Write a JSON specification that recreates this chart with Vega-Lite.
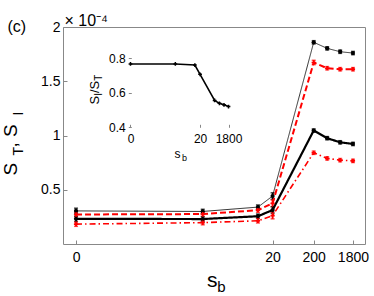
{
  "$schema": "https://vega.github.io/schema/vega-lite/v6.json",
  "width": 302,
  "height": 217,
  "autosize": {"type": "none"},
  "padding": {"left": 63, "top": 27, "right": 9, "bottom": 52},
  "background": "white",
  "config": {
    "font": "Liberation Sans",
    "view": {"stroke": "#888", "strokeWidth": 1},
    "axis": {"grid": false, "domain": false, "labelColor": "black", "titleColor": "black", "titleFontWeight": "normal", "tickColor": "#888", "labelFont": "Liberation Sans", "titleFont": "Liberation Sans", "labelOverlap": false, "labelFlush": false}
  },
  "datasets": {
    "main": [
      {"s": 0, "series": "ST1", "y": 0.305, "e": 0.025},
      {"s": 0.4, "series": "ST1", "y": 0.300, "e": 0.02},
      {"s": 8.8, "series": "ST1", "y": 0.340, "e": 0.02},
      {"s": 20, "series": "ST1", "y": 0.442, "e": 0.03},
      {"s": 200, "series": "ST1", "y": 1.859, "e": 0.015},
      {"s": 425, "series": "ST1", "y": 1.803, "e": 0.015},
      {"s": 880, "series": "ST1", "y": 1.772, "e": 0.015},
      {"s": 1800, "series": "ST1", "y": 1.760, "e": 0.015},
      {"s": 0, "series": "SI1", "y": 0.232, "e": 0.025},
      {"s": 0.4, "series": "SI1", "y": 0.230, "e": 0.02},
      {"s": 8.8, "series": "SI1", "y": 0.256, "e": 0.02},
      {"s": 20, "series": "SI1", "y": 0.313, "e": 0.03},
      {"s": 200, "series": "SI1", "y": 1.046, "e": 0.015},
      {"s": 425, "series": "SI1", "y": 0.975, "e": 0.015},
      {"s": 880, "series": "SI1", "y": 0.937, "e": 0.015},
      {"s": 1800, "series": "SI1", "y": 0.922, "e": 0.015},
      {"s": 0, "series": "ST2", "y": 0.272, "e": 0.02},
      {"s": 0.4, "series": "ST2", "y": 0.276, "e": 0.02},
      {"s": 8.8, "series": "ST2", "y": 0.312, "e": 0.02},
      {"s": 20, "series": "ST2", "y": 0.375, "e": 0.03},
      {"s": 200, "series": "ST2", "y": 1.673, "e": 0.02},
      {"s": 425, "series": "ST2", "y": 1.620, "e": 0.015},
      {"s": 880, "series": "ST2", "y": 1.611, "e": 0.015},
      {"s": 1800, "series": "ST2", "y": 1.611, "e": 0.015},
      {"s": 0, "series": "SI2", "y": 0.183, "e": 0.02},
      {"s": 0.4, "series": "SI2", "y": 0.197, "e": 0.02},
      {"s": 8.8, "series": "SI2", "y": 0.214, "e": 0.02},
      {"s": 20, "series": "SI2", "y": 0.262, "e": 0.03},
      {"s": 200, "series": "SI2", "y": 0.841, "e": 0.015},
      {"s": 425, "series": "SI2", "y": 0.789, "e": 0.015},
      {"s": 880, "series": "SI2", "y": 0.773, "e": 0.015},
      {"s": 1800, "series": "SI2", "y": 0.766, "e": 0.015}
    ],
    "ratio": [
      {"s": 0, "r": 0.767},
      {"s": 0.4, "r": 0.767},
      {"s": 8.8, "r": 0.761},
      {"s": 20, "r": 0.707},
      {"s": 200, "r": 0.556},
      {"s": 425, "r": 0.539},
      {"s": 880, "r": 0.530},
      {"s": 1800, "r": 0.520}
    ],
    "dummy": [{"d": 0}]
  },
  "layer": [
    {
      "data": {"name": "main"},
      "encoding": {
        "x": {"field": "s", "type": "quantitative",
          "scale": {"type": "symlog", "constant": 0.000332, "domain": [-0.000357, 3534], "nice": false, "zero": false},
          "axis": {"orient": "bottom", "values": [0, 20, 200, 1800], "format": "d", "labelFontSize": 14, "tickSize": -4, "labelPadding": 10,
            "title": "s", "titleFontSize": 21, "titleX": 148.7, "titleY": 42.7, "titleAlign": "center", "titleBaseline": "alphabetic", "titleAngle": 0}},
        "y": {"field": "y", "type": "quantitative",
          "scale": {"domain": [0, 2], "nice": false, "zero": false},
          "axis": {"orient": "left", "values": [0.5, 1, 1.5, 2], "format": "~g", "labelFontSize": 14, "tickSize": -4, "labelPadding": 7,
            "title": "S", "titleFontSize": 19, "titleX": -47, "titleY": 148, "titleAngle": 270, "titleAlign": "left", "titleBaseline": "alphabetic"}},
        "color": {"field": "series", "type": "nominal", "scale": {"domain": ["ST1", "SI1", "ST2", "SI2"], "range": ["black", "black", "#ff0000", "#ff0000"]}, "legend": null}
      },
      "layer": [
        {"mark": {"type": "errorbar", "ticks": {"size": 4}, "thickness": 1.5}, "encoding": {"yError": {"field": "e"}}},
        {"mark": {"type": "line"},
          "encoding": {
            "strokeDash": {"field": "series", "type": "nominal", "scale": {"domain": ["ST1", "SI1", "ST2", "SI2"], "range": [[1, 0], [1, 0], [6, 3], [6, 3, 1.5, 3]]}, "legend": null},
            "strokeWidth": {"field": "series", "type": "nominal", "scale": {"type": "ordinal", "domain": ["ST1", "SI1", "ST2", "SI2"], "range": [0.8, 2.2, 2, 1.6]}, "legend": null}
          }},
        {"mark": {"type": "point", "filled": true, "opacity": 1, "size": 18},
          "encoding": {
            "shape": {"field": "series", "type": "nominal", "scale": {"domain": ["ST1", "SI1", "ST2", "SI2"], "range": ["circle", "circle", "cross", "cross"]}, "legend": null}
          }}
      ]
    },
    {
      "data": {"name": "ratio"},
      "encoding": {
        "x": {"field": "s", "type": "quantitative",
          "scale": {"type": "symlog", "constant": 0.000332, "domain": [-0.000137, 3490], "range": [65.3, 169.7], "nice": false, "zero": false},
          "axis": {"orient": "bottom", "offset": -116.7, "values": [0, 20, 1800], "format": "d", "labelFontSize": 12, "tickSize": -3, "labelPadding": 9,
            "title": "s", "titleFontSize": 12, "titleX": 114, "titleY": 29.7, "titleAlign": "center", "titleBaseline": "alphabetic", "titleAngle": 0}},
        "y": {"field": "r", "type": "quantitative",
          "scale": {"domain": [0.4, 0.848], "range": [100.3, 23], "nice": false, "zero": false},
          "axis": {"orient": "left", "offset": -65.3, "values": [0.4, 0.6, 0.8], "format": "~g", "labelFontSize": 12, "tickSize": -3, "labelPadding": 6,
            "title": "S", "titleFontSize": 13, "titleX": -30.3, "titleY": 77, "titleAngle": 270, "titleAlign": "left", "titleBaseline": "alphabetic"}}
      },
      "layer": [
        {"data": {"name": "dummy"}, "mark": {"type": "rect", "fill": "white", "stroke": "#888", "strokeWidth": 1},
          "encoding": {
            "x": {"datum": -0.000137, "type": "quantitative"}, "x2": {"datum": 3490},
            "y": {"datum": 0.4, "type": "quantitative"}, "y2": {"datum": 0.848}
          }},
        {"mark": {"type": "line", "color": "black", "strokeWidth": 1.6}},
        {"mark": {"type": "point", "shape": "cross", "filled": true, "color": "black", "size": 14, "opacity": 1}}
      ]
    },
    {
      "data": {"name": "dummy"},
      "mark": {"type": "point", "opacity": 0},
      "encoding": {
        "x": {"field": "d", "type": "quantitative", "axis": {"orient": "bottom", "labels": false, "ticks": false, "domain": false,
          "title": "b", "titleFontSize": 15, "titleX": 158, "titleY": 47.7, "titleAngle": 0, "titleAlign": "center", "titleBaseline": "alphabetic"}},
        "y": {"field": "d", "type": "quantitative", "axis": {"orient": "left", "labels": false, "ticks": false, "domain": false,
          "title": "T", "titleFontSize": 14, "titleX": -41, "titleY": 128, "titleAngle": 270, "titleAlign": "left", "titleBaseline": "alphabetic"}}
      }
    },
    {
      "data": {"name": "dummy"},
      "mark": {"type": "point", "opacity": 0},
      "encoding": {
        "x": {"field": "d", "type": "quantitative", "axis": {"orient": "bottom", "labels": false, "ticks": false, "domain": false,
          "title": "b", "titleFontSize": 9, "titleX": 121, "titleY": -84, "titleAngle": 0, "titleAlign": "center", "titleBaseline": "alphabetic"}},
        "y": {"field": "d", "type": "quantitative", "axis": {"orient": "left", "labels": false, "ticks": false, "domain": false,
          "title": ", S", "titleFontSize": 19, "titleX": -47, "titleY": 120, "titleAngle": 270, "titleAlign": "left", "titleBaseline": "alphabetic"}}
      }
    },
    {
      "data": {"name": "dummy"},
      "mark": {"type": "point", "opacity": 0},
      "encoding": {
        "x": {"field": "d", "type": "quantitative", "axis": {"orient": "bottom", "labels": false, "ticks": false, "domain": false,
          "title": "(c)", "titleFontSize": 16, "titleX": -56, "titleY": -212.4, "titleAngle": 0, "titleAlign": "left", "titleBaseline": "alphabetic"}},
        "y": {"field": "d", "type": "quantitative", "axis": {"orient": "left", "labels": false, "ticks": false, "domain": false,
          "title": "I", "titleFontSize": 14, "titleX": -41, "titleY": 88, "titleAngle": 270, "titleAlign": "left", "titleBaseline": "alphabetic"}}
      }
    },
    {
      "data": {"name": "dummy"},
      "mark": {"type": "point", "opacity": 0},
      "encoding": {
        "x": {"field": "d", "type": "quantitative", "axis": {"orient": "bottom", "labels": false, "ticks": false, "domain": false,
          "title": "× 10⁻⁴", "titleFontSize": 16, "titleX": 1, "titleY": -219, "titleAngle": 0, "titleAlign": "left", "titleBaseline": "alphabetic"}},
        "y": {"field": "d", "type": "quantitative", "axis": {"orient": "left", "labels": false, "ticks": false, "domain": false,
          "title": "I", "titleFontSize": 10, "titleX": 38, "titleY": 68.3, "titleAngle": 270, "titleAlign": "left", "titleBaseline": "alphabetic"}}
      }
    },
    {
      "data": {"name": "dummy"},
      "mark": {"type": "point", "opacity": 0},
      "encoding": {
        "x": {"field": "d", "type": "quantitative", "axis": {"orient": "bottom", "labels": false, "ticks": false, "domain": false,
          "title": "/S", "titleFontSize": 13, "titleX": 35, "titleY": -151.5, "titleAngle": 270, "titleAlign": "left", "titleBaseline": "alphabetic"}},
        "y": {"field": "d", "type": "quantitative", "axis": {"orient": "left", "labels": false, "ticks": false, "domain": false,
          "title": "T", "titleFontSize": 10, "titleX": 38, "titleY": 53.2, "titleAngle": 270, "titleAlign": "left", "titleBaseline": "alphabetic"}}
      }
    }
  ],
  "resolve": {"scale": {"x": "independent", "y": "independent"}}
}
